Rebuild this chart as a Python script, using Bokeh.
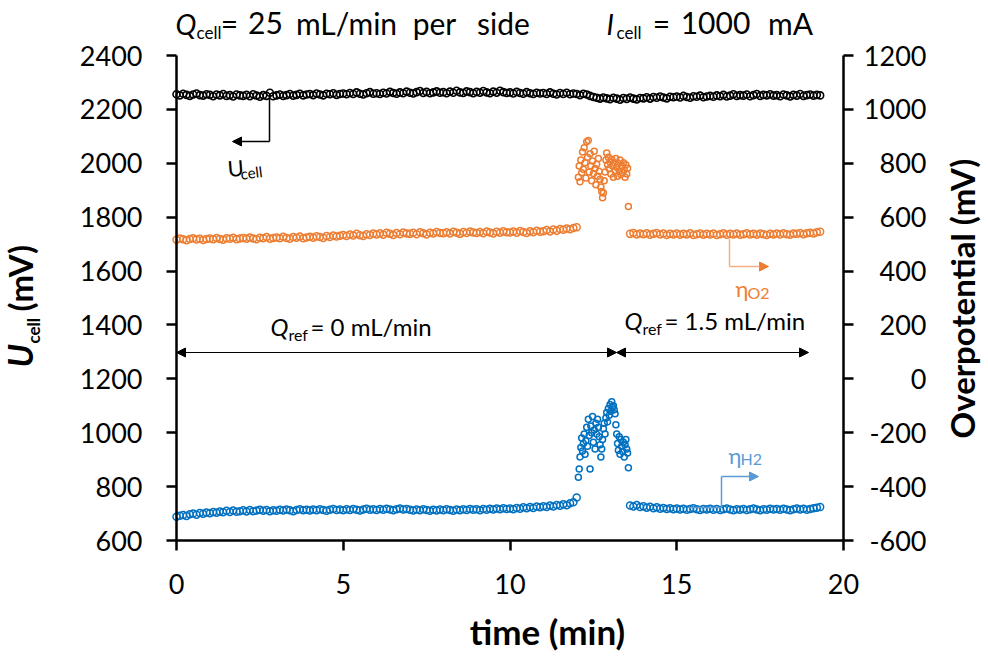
import numpy as np
from bokeh.plotting import figure
from bokeh.models import Range1d, LinearAxis, Label, Arrow, NormalHead, FixedTicker
from bokeh.embed import file_html
from bokeh.resources import INLINE

# cell voltage, mV (left axis), one reading every 0.1 min from t = 0
u_cell = [
    2256, 2252, 2258, 2254, 2250, 2255, 2259, 2253, 2251, 2256,
    2254, 2249, 2255, 2252, 2257, 2250, 2253, 2248, 2255, 2252,
    2250, 2254, 2249, 2256, 2251, 2247, 2253, 2250, 2262, 2249,
    2252, 2255, 2250, 2253, 2257, 2251, 2254, 2258, 2252, 2255,
    2257, 2253, 2259, 2255, 2252, 2258, 2256, 2260, 2254, 2257,
    2259, 2256, 2261, 2257, 2263, 2258, 2255, 2260, 2264, 2258,
    2260, 2257, 2262, 2259, 2265, 2261, 2258, 2263, 2260, 2266,
    2262, 2259, 2264, 2268, 2261, 2265, 2260, 2263, 2267, 2262,
    2264, 2260, 2266, 2262, 2269, 2263, 2261, 2267, 2264, 2260,
    2265, 2262, 2268, 2263, 2260, 2266, 2262, 2269, 2264, 2261,
    2263, 2259, 2265, 2261, 2258, 2264, 2260, 2257, 2262, 2259,
    2261, 2257, 2263, 2258, 2255, 2261, 2257, 2262, 2256, 2259,
    2257, 2253, 2258, 2255, 2250, 2246, 2243, 2240, 2244, 2241,
    2238, 2243, 2240, 2236, 2242, 2239, 2244, 2240, 2237, 2242,
    2241, 2245, 2240, 2246, 2243, 2248, 2244, 2241, 2247, 2245,
    2248, 2244, 2250, 2246, 2243, 2249, 2247, 2251, 2245, 2248,
    2250, 2247, 2252, 2249, 2254, 2248, 2251, 2256, 2250, 2253,
    2251, 2255, 2249, 2253, 2257, 2250, 2254, 2252, 2256, 2251,
    2253, 2249, 2255, 2252, 2248, 2254, 2251, 2257, 2250, 2253,
    2255, 2251, 2254, 2252,
]

# O2 side overpotential, mV (right axis)
# before: 0 - 12.0 min every 0.1 min, switch: 12.05 - 13.55 min every 0.025 min,
# after: 13.6 - 19.3 min every 0.1 min
eta_o2_before = [
    516, 521, 518, 514, 519, 522, 517, 520, 515, 519,
    521, 518, 523, 519, 516, 522, 520, 524, 518, 521,
    523, 520, 525, 521, 518, 524, 522, 526, 520, 523,
    525, 522, 527, 523, 520, 526, 524, 528, 522, 525,
    527, 524, 529, 526, 523, 530, 526, 532, 528, 531,
    534, 530, 536, 532, 538, 533, 530, 537, 534, 539,
    536, 540, 535, 542, 538, 534, 541, 537, 543, 539,
    538, 542, 537, 544, 540, 536, 542, 539, 545, 541,
    540, 544, 539, 546, 542, 538, 545, 541, 547, 543,
    541, 545, 540, 547, 543, 539, 546, 542, 548, 544,
    543, 547, 542, 549, 545, 541, 548, 544, 550, 546,
    548, 552, 547, 554, 550, 556, 553, 558, 555, 560,
    563,
]
eta_o2_switch = [
    748, 790, 731, 812, 765, 842, 778, 858, 802, 745,
    880, 822, 885, 768, 835, 790, 735, 808, 762, 845,
    781, 720, 796, 752, 818, 770, 741, 712, 695, 672,
    690, 735, 768, 812, 838, 795, 822, 780, 805, 760,
    815, 790, 748, 802, 772, 818, 785, 752, 798, 770,
    812, 758, 790, 765, 802, 775, 748, 795, 760, 782,
    640,
]
eta_o2_after = [
    538, 541, 536, 539,
    537, 540, 535, 538, 541, 536, 539, 534, 538, 536,
    539, 535, 538, 536, 540, 534, 537, 539, 535, 538,
    536, 539, 534, 537, 540, 535, 538, 536, 539, 535,
    537, 540, 536, 538, 535, 539, 537, 534, 538, 536,
    539, 536, 540, 537, 535, 539, 538, 541, 537, 540,
    542, 539, 544, 546,
]

# H2 side overpotential, mV (right axis), same time grid as the O2 side
eta_h2_before = [
    -512, -508, -505, -509, -503, -500, -504, -498, -501, -496,
    -499, -494, -497, -492, -495, -490, -494, -489, -493, -491,
    -488, -492, -487, -491, -489, -486, -490, -487, -491, -488,
    -490, -486, -489, -485, -488, -491, -487, -484, -488, -486,
    -489, -485, -488, -484, -487, -490, -486, -483, -487, -485,
    -488, -484, -487, -483, -486, -489, -485, -482, -486, -484,
    -487, -483, -486, -482, -485, -488, -484, -481, -485, -483,
    -486, -489, -485, -488, -484, -487, -490, -486, -489, -485,
    -488, -484, -487, -490, -485, -488, -484, -487, -483, -486,
    -484, -488, -483, -486, -482, -485, -481, -484, -480, -483,
    -481, -484, -479, -482, -477, -480, -476, -479, -474, -477,
    -473, -476, -470, -474, -468, -471, -465, -469, -462, -458,
    -440,
]
eta_h2_switch = [
    -365, -335, -290, -255, -220, -268, -240, -205, -280, -230,
    -180, -250, -150, -210, -335, -175, -200, -140, -235, -190,
    -260, -165, -205, -150, -180, -215, -245, -290, -260, -225,
    -185, -165, -205, -145, -125, -160, -110, -135, -95, -120,
    -85, -105, -100, -115, -130, -170, -205, -240, -265, -215,
    -280, -225, -250, -270, -235, -290, -245, -225, -260, -275,
    -330,
]
eta_h2_after = [
    -470, -474, -468, -476,
    -473, -478, -475, -480, -477, -482, -479, -483, -480, -484,
    -481, -485, -482, -486, -483, -480, -484, -487, -483, -485,
    -482, -486, -483, -487, -484, -481, -485, -488, -484, -486,
    -483, -487, -484, -481, -485, -488, -484, -486, -482, -485,
    -483, -486, -482, -485, -488, -484, -481, -485, -482, -486,
    -483, -480, -478, -476,
]

x_ticks = [0, 5, 10, 15, 20]
u_ticks = [600, 800, 1000, 1200, 1400, 1600, 1800, 2000, 2200, 2400]
eta_ticks = [-600, -400, -200, 0, 200, 400, 600, 800, 1000, 1200]

FONT = "Lato"
BLACK = "#000000"
ORANGE = "#ED7D31"
BLUE = "#0070C0"
LIGHT_ORANGE = "#F4B183"
LIGHT_BLUE = "#5B9BD5"

t_cell = np.round(np.arange(len(u_cell)) * 0.1, 3)
t_before = np.round(np.arange(len(eta_o2_before)) * 0.1, 3)
t_switch = np.round(12.05 + np.arange(len(eta_o2_switch)) * 0.025, 3)
t_after = np.round(13.6 + np.arange(len(eta_o2_after)) * 0.1, 3)

# the frame fills the whole canvas so that texts outside the axes are not clipped;
# the axes sit at fixed positions inside it
W, H = 988, 656
AX_L, AX_R, AX_T, AX_B = 176, 843, 55, 540


def tx(px):
    # canvas pixel -> time
    return (px - AX_L) / (AX_R - AX_L) * 20


def uy(py):
    # canvas pixel -> left axis mV
    return 2400 - (py - AX_T) / (AX_B - AX_T) * 1800


p = figure(width=W, height=H, title=None,
           x_range=Range1d(tx(0), tx(W)), y_range=Range1d(uy(H), uy(0)),
           output_backend="svg", toolbar_location=None, x_axis_type=None, y_axis_type=None,
           min_border=0)
p.extra_y_ranges = {"eta": Range1d(uy(H) - 1200, uy(0) - 1200)}
p.grid.grid_line_color = None
p.outline_line_color = None
p.background_fill_color = "white"
p.border_fill_color = "white"

x_axis = LinearAxis(ticker=FixedTicker(ticks=x_ticks), fixed_location=600, bounds=(0, 20),
                    major_label_standoff=23)
left_axis = LinearAxis(ticker=FixedTicker(ticks=u_ticks), fixed_location=0, bounds=(600, 2400),
                       major_label_standoff=24)
right_axis = LinearAxis(ticker=FixedTicker(ticks=eta_ticks), y_range_name="eta",
                        fixed_location=20, bounds=(-600, 1200),
                        major_label_overrides={v: "" for v in eta_ticks})
p.add_layout(x_axis, "below")
p.add_layout(left_axis, "left")
p.add_layout(right_axis, "right")

for ax in (x_axis, left_axis, right_axis):
    ax.axis_line_width = 2.5
    ax.axis_line_color = BLACK
    ax.major_tick_line_width = 2.5
    ax.major_tick_line_color = BLACK
    ax.major_tick_out = 10
    ax.major_tick_in = 0
    ax.minor_tick_out = 0
    ax.minor_tick_in = 0
    ax.major_label_text_font = FONT
    ax.major_label_text_font_size = "27px"
    ax.major_label_text_color = BLACK


def label(text, px, py, size, style="normal", color=BLACK, align="left", angle=0.0):
    # px, py: where the baseline starts; the label box sits a bit low, so lift it
    if abs(angle - np.pi / 2) < 1e-6:
        px = px - 0.47 * size
    else:
        py = py - 0.32 * size
    p.add_layout(Label(x=tx(px), y=uy(py), text=text, text_font=FONT,
                       text_font_size=f"{size}px", text_font_style=style,
                       text_color=color, text_align=align,
                       text_baseline="alphabetic", angle=angle))


def arrow(x0, y0, x1, y1, color, width=1.5, start=False, end=True, head=None, size=10):
    hc = head or color
    p.add_layout(Arrow(
        x_start=tx(x0), y_start=uy(y0), x_end=tx(x1), y_end=uy(y1),
        line_color=color, line_width=width,
        start=NormalHead(size=size, fill_color=hc, line_color=hc) if start else None,
        end=NormalHead(size=size, fill_color=hc, line_color=hc) if end else None))


# data
p.scatter(t_cell, u_cell, marker="circle", size=7, fill_color=None,
          line_color=BLACK, line_width=1.6)
for t, v, s in [(t_before, eta_o2_before, 7), (t_switch, eta_o2_switch, 6), (t_after, eta_o2_after, 7)]:
    p.scatter(t, v, marker="circle", size=s, fill_color=None, line_color=ORANGE,
              line_width=1.5, y_range_name="eta")
for t, v, s in [(t_before, eta_h2_before, 7), (t_switch, eta_h2_switch, 6), (t_after, eta_h2_after, 7)]:
    p.scatter(t, v, marker="circle", size=s, fill_color=None, line_color=BLUE,
              line_width=1.5, y_range_name="eta")

# right tick labels, right-aligned as in the original
for v in eta_ticks:
    p.add_layout(Label(x=tx(926), y=v, y_range_name="eta", text=str(v),
                       text_font=FONT, text_font_size="27px", text_color=BLACK,
                       text_align="right", text_baseline="middle"))

# header, word by word (centred on the original word positions)
label("Q", 175, 32, 28, "italic")
label("cell", 196, 37, 17)
for word, x in [("=", 229), ("25", 265), ("mL/min", 346), ("per", 434), ("side", 503)]:
    label(word, x, 32, 30, align="center")
label("I", 606, 32, 28, "italic")
label("cell", 616, 37, 17)
for word, x in [("=", 661), ("1000", 715), ("mA", 790)]:
    label(word, x, 32, 30, align="center")

# axis titles
label("U", 35, 367, 34, "bold italic", angle=np.pi / 2)
label("cell", 41, 343, 17, "bold", angle=np.pi / 2)
label("(mV)", 35, 311, 33, "bold", angle=np.pi / 2)
label("Overpotential (mV)", 977, 298, 33, "bold", align="center", angle=np.pi / 2)
label("time (min)", 547, 642, 35, "bold", align="center")

# flow rate of the reference electrode
arrow(176, 352, 616, 352, BLACK, width=1.2, start=True, size=9)
arrow(616, 352, 808, 352, BLACK, width=1.2, start=True, size=9)
label("Q", 270, 334, 24, "italic")
label("ref", 288, 339, 16)
label("= 0 mL/min", 310, 334, 24)
label("Q", 624, 328, 24, "italic")
label("ref", 642, 333, 16)
label("= 1.5 mL/min", 664, 328, 24)

# series pointers
arrow(269, 97, 269, 141, BLACK, width=1.5, end=False)
arrow(269, 141, 232, 141, BLACK, width=1.5, size=9)
label("U", 227, 175, 22, angle=0.08)
label("cell", 240, 178, 15, angle=0.12)

arrow(729, 238, 729, 266, LIGHT_ORANGE, width=1.5, end=False)
arrow(729, 266, 768, 266, LIGHT_ORANGE, width=1.5, head=ORANGE, size=9)
label("η", 735, 295, 22, color=ORANGE)
label("O2", 747, 297, 16, color=ORANGE)

arrow(687, 507, 721, 507, LIGHT_BLUE, width=1.5, end=False)
arrow(721, 507, 721, 476, LIGHT_BLUE, width=1.5, end=False)
arrow(721, 476, 758, 476, LIGHT_BLUE, width=1.5, head=LIGHT_BLUE, size=9)
label("η", 728, 462, 22, color=LIGHT_BLUE)
label("H2", 740, 463, 16, color=LIGHT_BLUE)

open("out.html", "w").write(file_html(p, INLINE))
